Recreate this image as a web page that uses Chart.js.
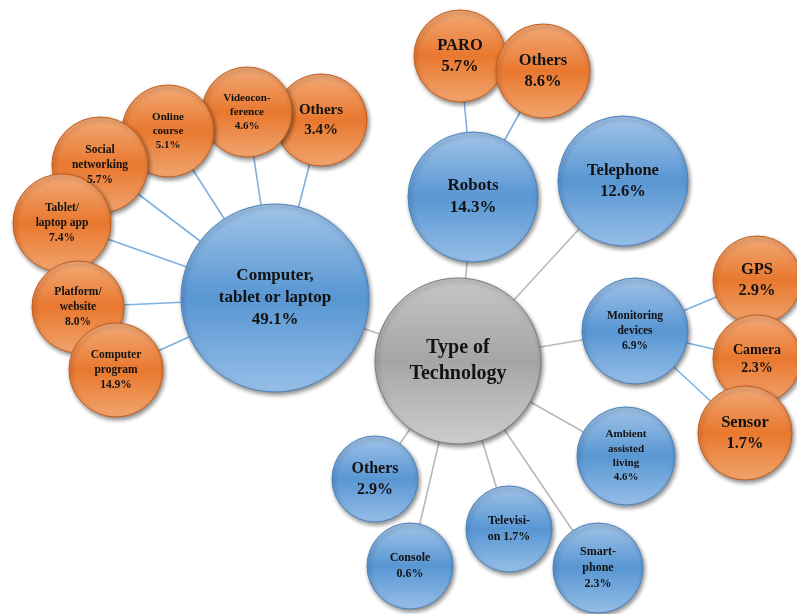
<!DOCTYPE html>
<html>
<head>
<meta charset="utf-8">
<script src="https://cdn.jsdelivr.net/npm/chart.js@4/dist/chart.umd.min.js"></script>
<style>
  html, body { margin: 0; padding: 0; background: #ffffff; }
  #wrap { width: 797px; height: 614px; }
</style>
</head>
<body>
<div id="wrap"><canvas id="c" width="797" height="614"></canvas></div>
<script>
// ---- Data ----
const categories = [
  "Type of\nTechnology",
  "Computer,\ntablet or laptop\n%v",
  "Robots\n%v",
  "Telephone\n%v",
  "Monitoring\ndevices\n%v",
  "Ambient\nassisted\nliving\n%v",
  "Smart-\nphone\n%v",
  "Televisi-\non %v",
  "Console\n%v",
  "Others\n%v",
  "Others\n%v",
  "Videocon-\nference\n%v",
  "Online\ncourse\n%v",
  "Social\nnetworking\n%v",
  "Tablet/\nlaptop app\n%v",
  "Platform/\nwebsite\n%v",
  "Computer\nprogram\n%v",
  "PARO\n%v",
  "Others\n%v",
  "GPS\n%v",
  "Camera\n%v",
  "Sensor\n%v"
];
const percentages = [null, 49.1, 14.3, 12.6, 6.9, 4.6, 2.3, 1.7, 0.6, 2.9,
                     3.4, 4.6, 5.1, 5.7, 7.4, 8.0, 14.9, 5.7, 8.6, 2.9, 2.3, 1.7];
// parent index of each node (-1 = root)
const parents = [-1, 0, 0, 0, 0, 0, 0, 0, 0, 0, 1, 1, 1, 1, 1, 1, 1, 2, 2, 4, 4, 4];
// level: 0 = root (grey), 1 = technology (blue), 2 = sub-type (orange)
const levels = [0, 1, 1, 1, 1, 1, 1, 1, 1, 1, 2, 2, 2, 2, 2, 2, 2, 2, 2, 2, 2, 2];
// bubble layout values (x, y on a 797 x 614 grid, bubble radius)
const bubbleX = [458, 275, 473, 623, 635, 626, 598, 509, 410, 375, 321, 247, 168, 100, 62, 78, 116, 460, 543, 757, 757, 745];
const bubbleY = [361, 298, 197, 181, 331, 456, 568, 529, 566, 479, 120, 112, 131, 165, 223, 307, 370, 56, 71, 280, 359, 433];
const bubbleR = [83, 94, 65, 65, 53, 49, 45, 43, 43, 43, 46, 45, 46, 48, 49, 46, 47, 46, 47, 44, 44, 47];

// ---- Styles ----
const W = 797, H = 614;
const labelFont = [20, 17, 17, 16.5, 11.5, 11, 12, 12, 12, 16, 15, 11, 11, 11.5, 11.5, 11.5, 11.5, 16.5, 16.5, 16.5, 14, 16.5];
const palette = {
  0: { top: '#c6c6c6', mid: '#a5a5a5', bot: '#cdcdcd', edge: '#7a7a7a' },
  1: { top: '#a2c4e8', mid: '#5896d3', bot: '#96bee7', edge: '#4a83bd' },
  2: { top: '#f2aa78', mid: '#e9782e', bot: '#f0a46e', edge: '#c45e1c' }
};

// Controllers that do not pad the chart area by the bubble sizes (1 data unit = 1 px)
class FlatBubble extends Chart.BubbleController {
  static id = 'flatBubble';
  static defaults = Chart.BubbleController.defaults;
  static overrides = Chart.BubbleController.overrides;
  getMaxOverflow() { return false; }
}
class FlatLine extends Chart.LineController {
  static id = 'flatLine';
  static defaults = Chart.LineController.defaults;
  static overrides = Chart.LineController.overrides;
  getMaxOverflow() { return false; }
}
Chart.register(FlatBubble, FlatLine);

const bubbleData = bubbleX.map((x, i) => ({ x: x, y: bubbleY[i], r: bubbleR[i] }));

const lineDatasets = [];
parents.forEach((p, i) => {
  if (p < 0) return;
  lineDatasets.push({
    type: 'flatLine',
    data: [{ x: bubbleX[i], y: bubbleY[i] }, { x: bubbleX[p], y: bubbleY[p] }],
    borderColor: levels[i] === 2 ? '#7eb1df' : '#b8b8b8',
    borderWidth: 1.6,
    pointRadius: 0,
    fill: false,
    order: 10,
    clip: false
  });
});

function fillFor(ctx) {
  const i = ctx.dataIndex;
  const pal = palette[levels[i]];
  const chart = ctx.chart;
  const ys = chart.scales && chart.scales.y;
  const cy = ys ? ys.getPixelForValue(bubbleY[i]) : NaN;
  if (!isFinite(cy)) return pal.mid;
  const r = bubbleR[i];
  const g = chart.ctx.createLinearGradient(0, cy - r, 0, cy + r);
  g.addColorStop(0, pal.top);
  g.addColorStop(0.5, pal.mid);
  g.addColorStop(1, pal.bot);
  return g;
}

const shadowPlugin = {
  id: 'shadow',
  beforeDatasetDraw(chart, args) {
    if (chart.data.datasets[args.index].type !== 'flatBubble') return;
    const c = chart.ctx;
    c.save();
    c.shadowColor = 'rgba(0,0,0,0.45)';
    c.shadowBlur = 4;
    c.shadowOffsetX = 1.5;
    c.shadowOffsetY = 2.5;
  },
  afterDatasetDraw(chart, args) {
    if (chart.data.datasets[args.index].type !== 'flatBubble') return;
    chart.ctx.restore();
  }
};

const labelPlugin = {
  id: 'labels',
  afterDatasetsDraw(chart) {
    const c = chart.ctx;
    const xs = chart.scales.x, ys = chart.scales.y;
    c.save();
    c.fillStyle = '#121212';
    c.textAlign = 'center';
    c.textBaseline = 'middle';
    categories.forEach((lab, i) => {
      const v = percentages[i];
      const text = v === null ? lab : lab.replace('%v', v.toFixed(1) + '%');
      const lines = text.split('\n');
      const fs = labelFont[i];
      const lh = fs * 1.3;
      c.font = 'bold ' + fs + 'px "Liberation Serif", "Times New Roman", serif';
      const cx = xs.getPixelForValue(bubbleX[i]);
      const cy = ys.getPixelForValue(bubbleY[i]);
      const y0 = cy - (lines.length - 1) * lh / 2;
      lines.forEach((ln, k) => c.fillText(ln, cx, y0 + k * lh));
    });
    c.restore();
  }
};

const chart = new Chart(document.getElementById('c'), {
  type: 'flatBubble',
  data: {
    datasets: [
      {
        type: 'flatBubble',
        data: bubbleData,
        backgroundColor: fillFor,
        borderColor: (ctx) => palette[levels[ctx.dataIndex]].edge,
        borderWidth: 1,
        order: 0,
        clip: false
      },
      ...lineDatasets
    ]
  },
  options: {
    responsive: false,
    animation: false,
    events: [],
    layout: { padding: 0 },
    plugins: { legend: { display: false }, tooltip: { enabled: false } },
    scales: {
      x: { type: 'linear', min: 0, max: W, display: false },
      y: { type: 'linear', min: 0, max: H, reverse: true, display: false }
    }
  },
  plugins: [shadowPlugin, labelPlugin]
});
chart.update();
</script>
</body>
</html>
